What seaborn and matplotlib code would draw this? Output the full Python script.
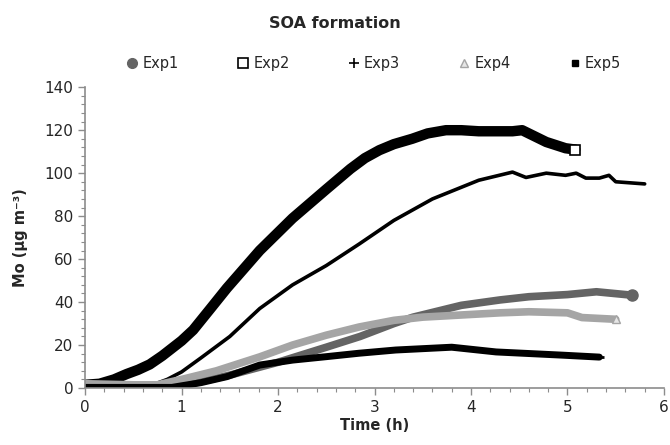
import numpy as np
import pandas as pd
import matplotlib
matplotlib.use('Agg')
import matplotlib.pyplot as plt
import seaborn as sns
from matplotlib.lines import Line2D
from matplotlib.ticker import MultipleLocator

# Data: time (h) and Mo (ug m-3)
exp1_t = [0, 0.5, 0.8, 1.0, 1.5, 2.0, 2.5, 2.85, 3.2, 3.4, 3.9, 4.3, 4.6, 5.0, 5.3, 5.67]
exp1_mo = [0.5, 0.5, 0.5, 1, 6, 12, 19, 24, 30, 33, 38.5, 41, 42.5, 43.5, 44.8, 43.2]

exp2_t = [0, 0.15, 0.3, 0.43, 0.55, 0.67, 0.8, 0.9, 1.0, 1.12, 1.3, 1.47, 1.81, 2.15,
          2.5, 2.75, 2.9, 3.05, 3.2, 3.39, 3.55, 3.74, 3.9, 4.08, 4.43, 4.53, 4.78,
          4.98, 5.08]
exp2_mo = [1.5, 2, 4, 6.5, 8.5, 11, 15, 18.5, 22, 27, 37, 46.5, 64, 79,
           92.5, 102, 107, 110.7, 113.5, 116, 118.5, 120, 120, 119.5, 119.5, 120, 114.5,
           111.6, 111]

exp3_t = [0, 0.6, 0.7, 0.85, 1.0, 1.2, 1.5, 1.81, 2.15, 2.5, 2.84, 3.2, 3.6, 4.08,
          4.43, 4.57, 4.78, 4.98, 5.09, 5.19, 5.33, 5.43, 5.5, 5.8]
exp3_mo = [0.8, 0.8, 1.5, 4, 7.5, 14, 24, 37, 48, 57, 67, 78, 88, 96.7,
           100.5, 98, 100, 99, 100, 97.7, 97.7, 99, 96, 95]

exp4_t = [0, 0.5, 0.75, 1.0, 1.36, 1.81, 2.15, 2.5, 2.84, 3.2, 3.5, 3.9, 4.3, 4.6,
          5.0, 5.15, 5.5]
exp4_mo = [2, 1.5, 1.5, 4, 8, 14.5, 20, 24.6, 28.4, 31.5, 33, 34, 35, 35.5,
           35, 32.8, 32]

exp5_t = [0, 0.9, 1.2, 1.47, 1.81, 2.15, 2.5, 2.84, 3.22, 3.8, 4.26, 4.95, 5.33]
exp5_mo = [0.3, 0.3, 2.5, 5.3, 10.7, 13, 14.6, 16.2, 17.7, 19, 16.8, 15.3, 14.4]

labels = ['Exp1', 'Exp2', 'Exp3', 'Exp4', 'Exp5']

sns.set_style('white')
plt.rcParams['font.family'] = ['DejaVu Sans']

fig = plt.figure(figsize=(6.7, 4.45), dpi=100)
ax = fig.add_axes([0.127, 0.128, 0.864, 0.676])

dark_grey = '#646464'
light_grey = '#a5a5a5'
series = [
    (exp1_t, exp1_mo, dark_grey, 5.5),
    (exp2_t, exp2_mo, 'black', 7.5),
    (exp3_t, exp3_mo, 'black', 2.6),
    (exp4_t, exp4_mo, light_grey, 5.5),
    (exp5_t, exp5_mo, 'black', 5),
]
for (t, mo, col, lw), lab in zip(series, labels):
    df = pd.DataFrame({'t': t, 'mo': mo})
    sns.lineplot(data=df, x='t', y='mo', color=col, linewidth=lw, sort=False,
                 estimator=None, ax=ax, solid_capstyle='round', solid_joinstyle='round')

# end markers like the original
ax.plot(exp1_t[-1], exp1_mo[-1], 'o', ms=8, color=dark_grey, mec=dark_grey)
ax.plot(exp2_t[-1], exp2_mo[-1], 's', ms=7.5, mfc='white', mec='black', mew=1.2)
ax.plot(exp4_t[-1], exp4_mo[-1], '^', ms=6, mfc='#e6e6e6', mec=light_grey, mew=1)
ax.plot(exp5_t[-1], exp5_mo[-1], '_', ms=7, color='black', mew=2)

ax.set_xlim(0, 6)
ax.set_ylim(0, 140)
ax.xaxis.set_major_locator(MultipleLocator(1))
ax.xaxis.set_minor_locator(MultipleLocator(0.2))
ax.yaxis.set_major_locator(MultipleLocator(20))
ax.yaxis.set_minor_locator(MultipleLocator(4))

for s in ['top', 'right']:
    ax.spines[s].set_visible(False)
for s in ['left', 'bottom']:
    ax.spines[s].set_color('#8c8c8c')
    ax.spines[s].set_linewidth(1.2)

ax.tick_params(which='major', direction='out', length=5, width=1, color='#8c8c8c',
               labelsize=11, left=True, bottom=True)
ax.tick_params(which='minor', direction='out', length=3, width=0.8, color='#8c8c8c',
               left=True, bottom=True)

ax.set_xlabel('Time (h)', fontsize=10.5, fontweight='bold', labelpad=2)
ax.set_ylabel('Mo (µg m⁻³)', fontsize=10.5, fontweight='bold', labelpad=12)

fig.text(0.5, 0.947, 'SOA formation', ha='center', va='center',
         fontsize=11.5, fontweight='bold')

handles = [
    Line2D([], [], marker='o', ls='', ms=7, color=dark_grey),
    Line2D([], [], marker='s', ls='', ms=7, mfc='white', mec='black', mew=1.2),
    Line2D([], [], marker='+', ls='', ms=7, color='black', mew=1.2),
    Line2D([], [], marker='^', ls='', ms=6, mfc='#e6e6e6', mec=light_grey, mew=1),
    Line2D([], [], marker='s', ls='', ms=4, color='black'),
]
fig.legend(handles, labels, loc='center', bbox_to_anchor=(0.558, 0.857), ncol=5,
           frameon=False, fontsize=10.5, handlelength=0.8, handletextpad=0.3,
           columnspacing=4.0)

fig.savefig('out.png', dpi=100)
